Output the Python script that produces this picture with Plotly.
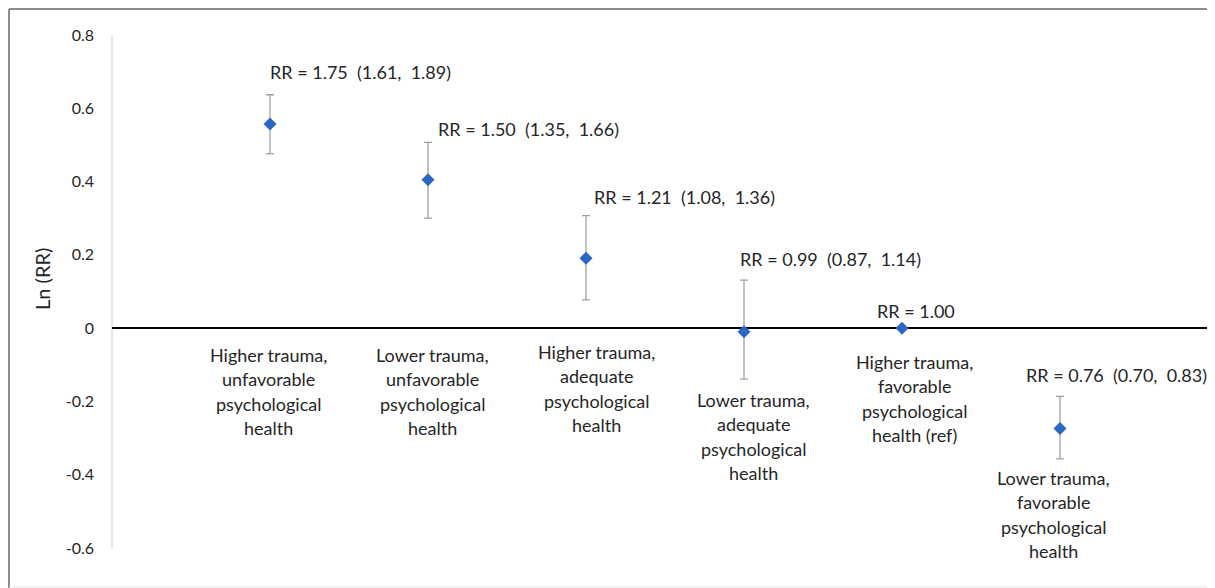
import plotly.graph_objects as go

# ---- data ----
categories = [
    "Higher trauma,<br>unfavorable<br>psychological<br>health",
    "Lower trauma,<br>unfavorable<br>psychological<br>health",
    "Higher trauma,<br>adequate<br>psychological<br>health",
    "Lower trauma,<br>adequate<br>psychological<br>health",
    "Higher trauma,<br>favorable<br>psychological<br>health (ref)",
    "Lower trauma,<br>favorable<br>psychological<br>health",
]
x_pos = [1, 2, 3, 4, 5, 6]
ln_rr = [0.557, 0.405, 0.191, -0.010, 0.0, -0.274]
ln_lo = [0.476, 0.300, 0.077, -0.139, 0.0, -0.357]
ln_hi = [0.637, 0.507, 0.307, 0.131, 0.0, -0.186]
rr_labels = [
    "RR = 1.75  (1.61,  1.89)",
    "RR = 1.50  (1.35,  1.66)",
    "RR = 1.21  (1.08,  1.36)",
    "RR = 0.99  (0.87,  1.14)",
    "RR = 1.00",
    "RR = 0.76  (0.70,  0.83)",
]
y_ticks = [0.8, 0.6, 0.4, 0.2, 0, -0.2, -0.4, -0.6]
y_ticktext = ["0.8", "0.6", "0.4", "0.2", "0", "-0.2", "-0.4", "-0.6"]

# ---- layout geometry (pixels, figure coordinates; page body adds 8px offset) ----
OFF = 8
W, H = 1215 - OFF, 588 - OFF
L = 112 - OFF
T = 35 - OFF
PLOT_BOTTOM = 548 - OFF
B = H - PLOT_BOTTOM
PW = W - L
PH = H - T - B
YMIN, YMAX = -0.6, 0.8
UNIT = 158.0  # px per x unit
XMAX = PW / UNIT

def px_to_paper(px):
    return (px - OFF - L) / PW

def py_to_paper(py):
    return (PLOT_BOTTOM - (py - OFF)) / PH

FONT = "Lato, 'Open Sans', sans-serif"
TXT = "#262626"

err_plus = [h - v for h, v in zip(ln_hi, ln_rr)]
err_minus = [v - l for v, l in zip(ln_rr, ln_lo)]

fig = go.Figure()
fig.add_trace(go.Scatter(
    x=x_pos, y=ln_rr, mode="markers",
    marker=dict(symbol="diamond", size=10, color="#2a66c4"),
    error_y=dict(type="data", symmetric=False, array=err_plus, arrayminus=err_minus,
                 color="#a0a0a0", thickness=1.3, width=4),
    showlegend=False, hoverinfo="skip",
))

annotations = []
# RR labels (left edge px, center y px) in reference picture coordinates
rr_pos = [(268, 72), (436, 129), (592, 197), (738, 259), (875, 311), (1024, 375)]
for txt, (px, py) in zip(rr_labels, rr_pos):
    annotations.append(dict(
        x=px_to_paper(px), y=py_to_paper(py), xref="paper", yref="paper",
        text=txt.replace("  ", "\u00a0\u00a0"), showarrow=False,
        xanchor="left", yanchor="middle",
        font=dict(family=FONT, size=18, color=TXT),
    ))

# category labels (center x px, first line center y px), line spacing 24.3 px
cat_pos = [(268, 355), (432, 355), (596, 352), (753, 400), (914, 362), (1053, 478)]
LINE = 24.3
for lab, (px, py) in zip(categories, cat_pos):
    for i, line in enumerate(lab.split("<br>")):
        annotations.append(dict(
            x=px_to_paper(px), y=py_to_paper(py + i * LINE), xref="paper", yref="paper",
            text=line, showarrow=False, xanchor="center", yanchor="middle",
            font=dict(family=FONT, size=18, color=TXT),
        ))

# y-axis title
annotations.append(dict(
    x=px_to_paper(42), y=py_to_paper(279), xref="paper", yref="paper",
    text="Ln (RR)", textangle=-90, showarrow=False,
    xanchor="center", yanchor="middle",
    font=dict(family=FONT, size=20, color=TXT),
))

FRAME = dict(color="#8c8c8c", width=2)
shapes = [
    # outer frame: top, left, bottom edges (right edge lies outside the picture)
    dict(type="line", xref="paper", yref="paper", x0=px_to_paper(9), x1=px_to_paper(1215),
         y0=py_to_paper(9), y1=py_to_paper(9), line=FRAME, layer="below"),
    dict(type="line", xref="paper", yref="paper", x0=px_to_paper(9), x1=px_to_paper(9),
         y0=py_to_paper(9), y1=py_to_paper(588), line=FRAME, layer="below"),
    dict(type="line", xref="paper", yref="paper", x0=px_to_paper(9), x1=px_to_paper(1215),
         y0=py_to_paper(587), y1=py_to_paper(587), line=dict(color="#e6e6e6", width=1),
         layer="below"),
    # y axis line
    dict(type="line", xref="paper", yref="y", x0=0, x1=0, y0=YMIN, y1=YMAX,
         line=dict(color="#d9d9d9", width=1.3), layer="below"),
]

fig.update_layout(
    width=W, height=H,
    margin=dict(l=L, r=0, t=T, b=B),
    paper_bgcolor="white", plot_bgcolor="white",
    xaxis=dict(range=[0, XMAX], showgrid=False, zeroline=False, showticklabels=False,
               showline=False, ticks=""),
    yaxis=dict(range=[YMIN, YMAX], tickvals=y_ticks, ticktext=y_ticktext,
               showgrid=False, zeroline=True, zerolinecolor="#000000", zerolinewidth=1.6,
               showline=False, ticks="", ticklabelstandoff=17,
               tickfont=dict(family=FONT, size=16, color=TXT)),
    annotations=annotations,
    shapes=shapes,
    font=dict(family=FONT),
)

fig.write_html("out.html")
